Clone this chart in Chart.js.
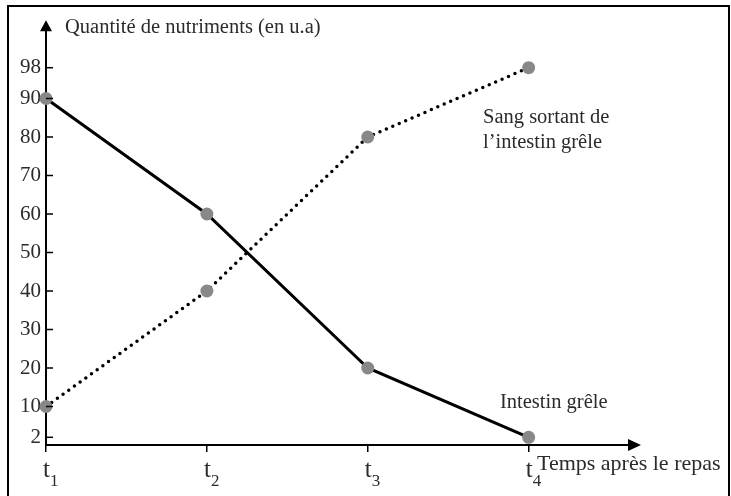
<!DOCTYPE html>
<html>
<head>
<meta charset="utf-8">
<script src="https://cdn.jsdelivr.net/npm/chart.js@4"></script>
<style>
    body { margin: 0; background: #fff; }
</style>
</head>
<body>
<canvas id="myChart" width="731" height="496"></canvas>
<script>
const times = [1, 2, 3, 4]
const timeLabels = ["1", "2", "3", "4"]// indices des t
const intestin = [90, 60, 20, 2]
const sang = [10, 40, 80, 98]
const yTicks = [2, 10, 20, 30, 40, 50, 60, 70, 80, 90, 98]

const serif = "'Liberation Serif', 'DejaVu Serif', serif"
const textColor = '#2b2b2b'

const axesDecor = {
    id: 'axesDecor',
    afterDraw(chart) {
        const ctx = chart.ctx
        const x = chart.scales.x
        const y = chart.scales.y
        const left = chart.chartArea.left
        const bottom = chart.chartArea.bottom
        ctx.save()
        // cadre
        ctx.strokeStyle = '#000'
        ctx.lineWidth = 2
        ctx.beginPath()
        ctx.moveTo(8, 496)
        ctx.lineTo(8, 6)
        ctx.lineTo(729, 6)
        ctx.lineTo(729, 496)
        ctx.stroke()
        // graduations de l'axe y (vers l'intérieur)
        ctx.lineWidth = 1.5
        yTicks.forEach(v => {
            const py = y.getPixelForValue(v)
            ctx.beginPath()
            ctx.moveTo(left, py)
            ctx.lineTo(left + 7, py)
            ctx.stroke()
        })
        // flèches
        ctx.fillStyle = '#000'
        ctx.beginPath()
        ctx.moveTo(left, chart.chartArea.top - 9)
        ctx.lineTo(left - 6, chart.chartArea.top + 2)
        ctx.lineTo(left + 6, chart.chartArea.top + 2)
        ctx.closePath()
        ctx.fill()
        const right = chart.chartArea.right
        ctx.beginPath()
        ctx.moveTo(right + 11, bottom)
        ctx.lineTo(right - 2, bottom - 6)
        ctx.lineTo(right - 2, bottom + 6)
        ctx.closePath()
        ctx.fill()
        // étiquettes t1..t4
        ctx.fillStyle = textColor
        times.forEach((t, i) => {
            const px = x.getPixelForValue(t)
            ctx.font = '25px ' + serif
            ctx.textAlign = 'right'
            ctx.textBaseline = 'alphabetic'
            ctx.fillText('t', px + 4, 477)
            ctx.font = '17px ' + serif
            ctx.textAlign = 'left'
            ctx.fillText(timeLabels[i], px + 4, 486)
        })
        // textes
        ctx.font = '20.5px ' + serif
        ctx.textAlign = 'left'
        ctx.fillText('Quantité de nutriments (en u.a)', 65, 33)
        ctx.fillText('Sang sortant de', 483, 123)
        ctx.fillText('l\u2019intestin grêle', 483, 148)
        ctx.fillText('Intestin grêle', 500, 408)
        ctx.font = '22px ' + serif
        ctx.fillText('Temps après le repas', 537, 470)
        ctx.restore()
    }
}

new Chart(document.getElementById('myChart'), {
    type: 'line',
    data: {
        datasets: [
            {
                data: times.map((t, i) => ({ x: t, y: intestin[i] })),
                borderColor: '#000',
                borderWidth: 3,
                pointRadius: 6.5,
                pointBackgroundColor: '#888',
                pointBorderWidth: 0,
                clip: false,
            },
            {
                data: times.map((t, i) => ({ x: t, y: sang[i] })),
                borderColor: '#000',
                borderWidth: 3.5,
                borderDash: [0, 7],
                borderCapStyle: 'round',
                pointRadius: 6.5,
                pointBackgroundColor: '#888',
                pointBorderWidth: 0,
                clip: false,
            },
        ]
    },
    options: {
        responsive: false,
        animation: false,
        layout: { padding: { left: 0, right: 101, top: 29.2, bottom: 0 } },
        plugins: { legend: { display: false }, tooltip: { enabled: false } },
        scales: {
            x: {
                type: 'linear',
                min: 1,
                max: 4.63,
                afterBuildTicks: s => { s.ticks = times.map(v => ({ value: v })) },
                afterFit: s => { s.height = 51 },
                ticks: { display: false },
                grid: { drawOnChartArea: false, drawTicks: true, tickLength: 7, color: '#000', lineWidth: 1.5 },
                border: { color: '#000', width: 2 },
            },
            y: {
                min: 0,
                max: 108,
                afterBuildTicks: s => { s.ticks = yTicks.map(v => ({ value: v })) },
                afterFit: s => { s.width = 46 },
                ticks: { font: { family: serif, size: 21 }, color: textColor, padding: 5 },
                grid: { drawOnChartArea: false, drawTicks: false },
                border: { color: '#000', width: 2 },
            },
        }
    },
    plugins: [axesDecor]
});
</script>
</body>
</html>
